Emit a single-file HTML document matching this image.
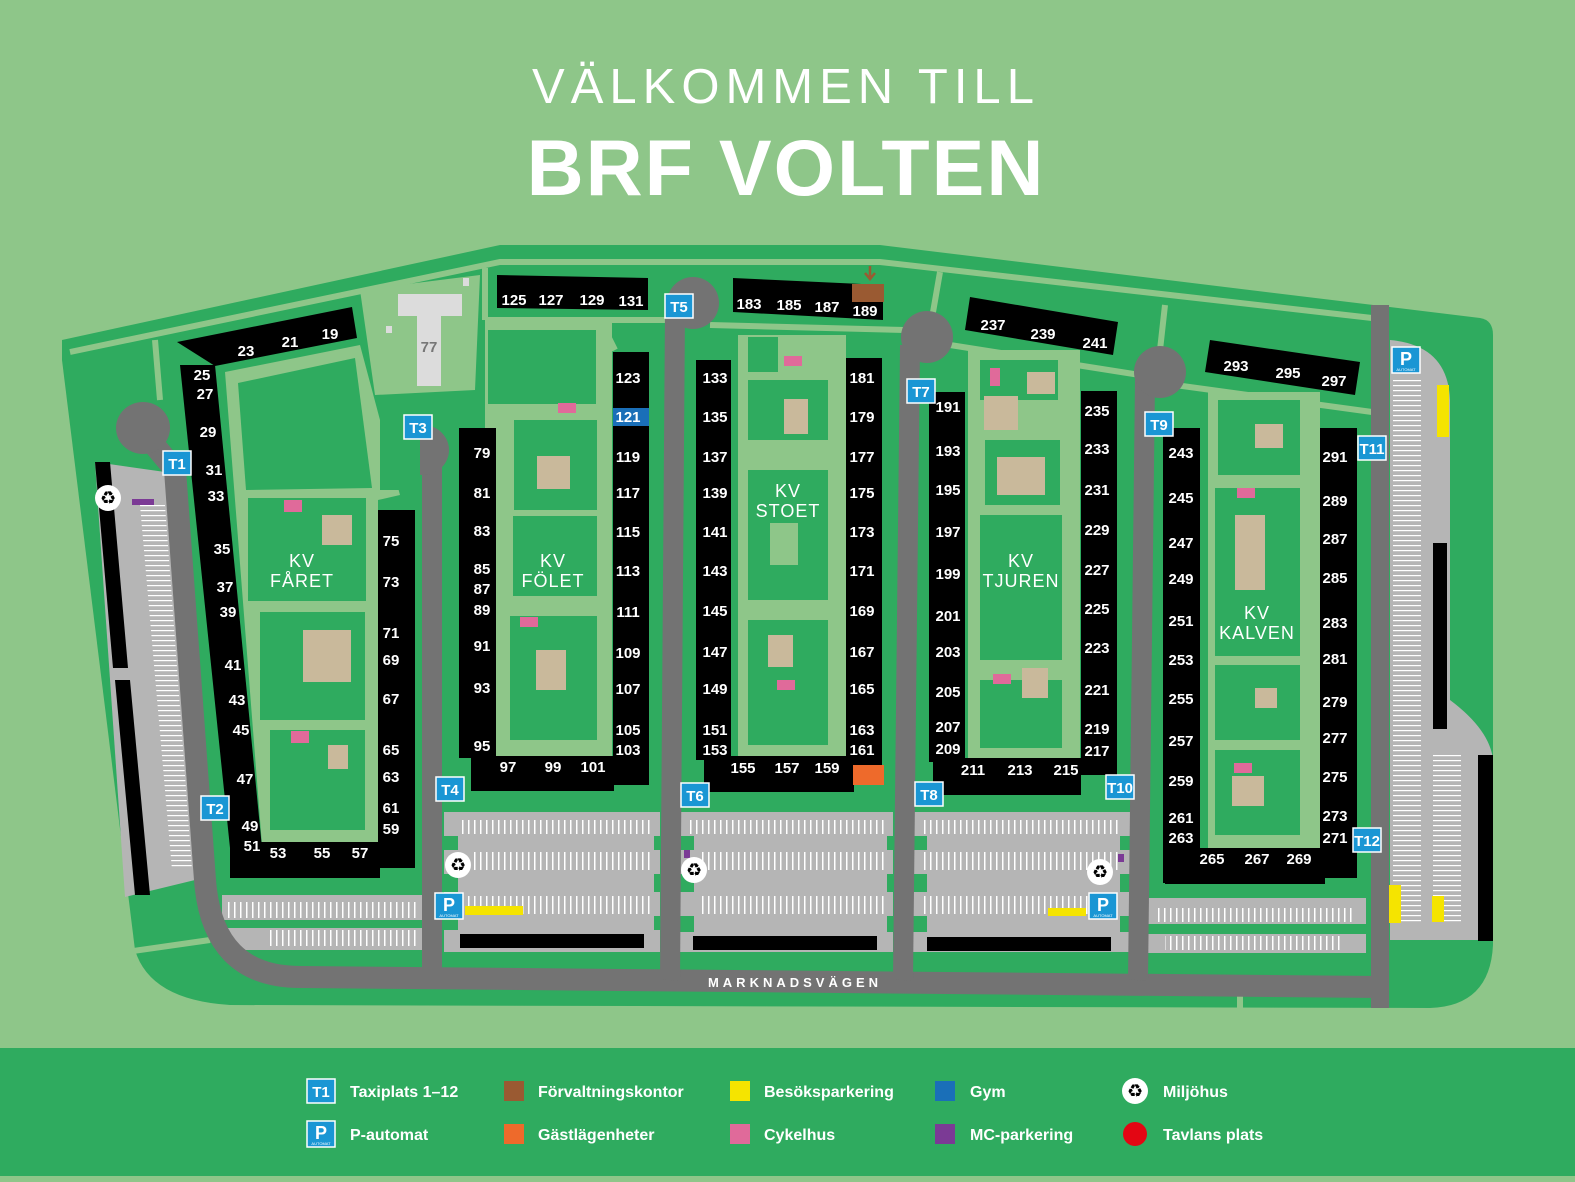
<!DOCTYPE html>
<html><head><meta charset="utf-8"><style>
html,body{margin:0;padding:0;background:#8ec689;}
svg{display:block;font-family:"Liberation Sans",sans-serif;}
.n{fill:#fff;font-weight:bold;font-size:15px;text-anchor:middle;}
.kv{fill:#fff;font-size:18px;text-anchor:middle;letter-spacing:1px;}
.t{fill:#fff;font-weight:bold;font-size:15px;text-anchor:middle;}
.lg{fill:#fff;font-weight:bold;font-size:16px;}
</style></head><body>
<svg width="1575" height="1182" viewBox="0 0 1575 1182" xmlns="http://www.w3.org/2000/svg">
<defs>
<pattern id="st" width="6" height="10" patternUnits="userSpaceOnUse"><rect width="6" height="10" fill="#b5b5b5"/><rect x="0" width="1.5" height="10" fill="#fff"/></pattern>
<pattern id="sh" width="10" height="5" patternUnits="userSpaceOnUse"><rect width="10" height="5" fill="#b5b5b5"/><rect y="0" width="10" height="1.2" fill="#fff"/></pattern>
<g id="T"><rect x="-14" y="-12" width="28" height="24" fill="#1a96d4" stroke="#fff" stroke-width="1.5"/></g>
<g id="R"><circle r="13" fill="#fff"/><text y="6" font-size="18" text-anchor="middle" fill="#000">♻</text></g>
<g id="P"><rect x="-14" y="-13" width="28" height="26" fill="#1a96d4" stroke="#fff" stroke-width="1.5"/><text y="5" font-size="18" font-weight="bold" fill="#fff" text-anchor="middle">P</text><text y="11" font-size="4" fill="#fff" text-anchor="middle">AUTOMAT</text></g>
</defs>
<rect width="1575" height="1182" fill="#8ec689"/>
<text x="786" y="103" font-size="49" fill="#fff" text-anchor="middle" letter-spacing="6">VÄLKOMMEN TILL</text>
<text x="786" y="195" font-size="79" font-weight="bold" fill="#fff" text-anchor="middle" letter-spacing="2">BRF VOLTEN</text>

<path d="M62,340 L500,245 L880,245 L1480,318 Q1493,320 1493,335 L1493,945 Q1490,1006 1430,1008 L230,1005 Q150,1000 135,950 L62,360 Z" fill="#2fab5f"/>
<path d="M70,352 L500,262 L880,262 L1372,318" stroke="#8ec689" stroke-width="6" fill="none"/>
<path d="M155,340 L160,400 M365,290 L380,390 M485,268 L485,320 M600,320 L615,350 M940,272 L932,318 M1165,305 L1160,350" stroke="#8ec689" stroke-width="6" fill="none"/>
<path d="M485,320 L690,320 M710,325 L905,330 M950,345 L1140,375 M1175,385 L1372,412" stroke="#8ec689" stroke-width="6" fill="none"/>
<path d="M70,960 L210,940 M1240,990 L1240,1008" stroke="#8ec689" stroke-width="6" fill="none"/>

<polygon points="95,462 165,472 195,880 125,897" fill="#b5b5b5"/>
<polygon points="140,505 165,505 192,870 172,870" fill="url(#sh)"/>
<polygon points="95,462 110,462 128,668 113,668" fill="#000"/>
<polygon points="115,680 130,680 150,895 135,895" fill="#000"/>
<rect x="132" y="499" width="22" height="6" fill="#7b3a95"/>

<path d="M1390,340 Q1448,345 1450,400 L1450,700 Q1490,730 1493,760 L1493,940 L1390,940 Z" fill="#b5b5b5"/>
<rect x="1393" y="380" width="28" height="545" fill="url(#sh)"/>
<rect x="1433" y="752" width="28" height="170" fill="url(#sh)"/>
<rect x="1433" y="543" width="14" height="186" fill="#000"/>
<rect x="1478" y="755" width="15" height="186" fill="#000"/>
<rect x="1437" y="385" width="12" height="52" fill="#f5e400"/>
<rect x="1389" y="885" width="12" height="38" fill="#f5e400"/>
<rect x="1432" y="896" width="12" height="26" fill="#f5e400"/>

<rect x="222" y="895" width="200" height="55" fill="#b5b5b5"/>
<rect x="228" y="902" width="188" height="16" fill="url(#st)"/>
<rect x="266" y="930" width="150" height="16" fill="url(#st)"/>
<rect x="444" y="812" width="216" height="140" fill="#b5b5b5"/>
<rect x="458" y="820" width="196" height="14" fill="url(#st)"/>
<rect x="470" y="852" width="184" height="18" fill="url(#st)"/>
<rect x="465" y="896" width="189" height="18" fill="url(#st)"/>
<rect x="465" y="906" width="58" height="9" fill="#f5e400"/>
<rect x="460" y="934" width="184" height="14" fill="#000"/>
<rect x="680" y="812" width="213" height="140" fill="#b5b5b5"/>
<rect x="690" y="820" width="197" height="14" fill="url(#st)"/>
<rect x="700" y="852" width="187" height="18" fill="url(#st)"/>
<rect x="698" y="896" width="189" height="18" fill="url(#st)"/>
<rect x="693" y="936" width="184" height="14" fill="#000"/>
<rect x="913" y="812" width="217" height="140" fill="#b5b5b5"/>
<rect x="923" y="820" width="197" height="14" fill="url(#st)"/>
<rect x="923" y="852" width="197" height="18" fill="url(#st)"/>
<rect x="923" y="896" width="165" height="18" fill="url(#st)"/>
<rect x="1048" y="908" width="38" height="9" fill="#f5e400"/>
<rect x="927" y="937" width="184" height="14" fill="#000"/>
<rect x="1147" y="898" width="219" height="55" fill="#b5b5b5"/>
<rect x="1155" y="908" width="200" height="14" fill="url(#st)"/>
<rect x="1165" y="936" width="175" height="14" fill="url(#st)"/>
<g fill="#2fab5f"><rect x="444" y="836" width="216" height="14"/><rect x="444" y="874" width="216" height="18"/><rect x="444" y="916" width="216" height="14"/>
<rect x="680" y="836" width="213" height="14"/><rect x="680" y="874" width="213" height="18"/><rect x="680" y="916" width="213" height="16"/>
<rect x="913" y="836" width="217" height="14"/><rect x="913" y="874" width="217" height="18"/><rect x="913" y="916" width="217" height="16"/>
<rect x="222" y="920" width="200" height="8"/><rect x="1147" y="924" width="219" height="10"/></g>
<g fill="#b5b5b5"><rect x="458" y="836" width="196" height="14"/><rect x="458" y="874" width="196" height="18"/><rect x="694" y="836" width="193" height="14"/><rect x="694" y="874" width="193" height="18"/><rect x="927" y="836" width="193" height="14"/><rect x="927" y="874" width="193" height="18"/><rect x="458" y="916" width="196" height="16"/><rect x="694" y="916" width="193" height="18"/><rect x="927" y="916" width="193" height="18"/></g>
<rect x="684" y="850" width="6" height="8" fill="#7b3a95"/><rect x="1118" y="854" width="6" height="8" fill="#7b3a95"/>

<g stroke="#737373" fill="none" stroke-linecap="butt">
<path d="M150,440 L175,470 L205,880 Q212,977 300,977 L1380,987" stroke-width="22"/>
<path d="M432,460 L432,980" stroke-width="20"/>
<path d="M675,310 L670,980" stroke-width="20"/>
<path d="M910,345 L903,980" stroke-width="20"/>
<path d="M1145,380 L1138,980" stroke-width="20"/>
<path d="M1380,305 L1380,1008" stroke-width="18"/>
</g>
<g fill="#737373">
<ellipse cx="143" cy="428" rx="27" ry="26"/><ellipse cx="423" cy="450" rx="26" ry="25"/><ellipse cx="693" cy="303" rx="26" ry="26"/><ellipse cx="927" cy="337" rx="26" ry="26"/><ellipse cx="1160" cy="372" rx="26" ry="26"/>
</g>
<text x="795" y="987" font-size="13" font-weight="bold" fill="#fff" text-anchor="middle" letter-spacing="4">MARKNADSVÄGEN</text>

<g fill="#8ec689">
<polygon points="225,372 360,345 400,495 378,500 378,845 262,845"/>
<rect x="485" y="320" width="127" height="440"/>
<rect x="738" y="335" width="108" height="425"/>
<rect x="968" y="350" width="112" height="410"/>
<rect x="1208" y="392" width="112" height="460"/>
<polygon points="360,290 480,275 475,390 375,395"/>
</g>
<g fill="#2fab5f">
<polygon points="238,383 355,358 372,488 246,490"/><rect x="248" y="498" width="118" height="103"/><rect x="260" y="612" width="105" height="108"/><rect x="270" y="730" width="95" height="100"/>
<rect x="488" y="330" width="108" height="74"/><rect x="514" y="420" width="83" height="90"/><rect x="513" y="516" width="84" height="80"/><rect x="510" y="616" width="87" height="124"/>
<rect x="748" y="337" width="30" height="35"/><rect x="748" y="380" width="80" height="60"/><rect x="748" y="470" width="80" height="130"/><rect x="748" y="620" width="80" height="125"/>
<rect x="980" y="360" width="78" height="40"/><rect x="985" y="440" width="75" height="65"/><rect x="980" y="515" width="82" height="145"/><rect x="980" y="680" width="82" height="68"/>
<rect x="1218" y="400" width="82" height="75"/><rect x="1215" y="488" width="85" height="168"/><rect x="1215" y="665" width="85" height="75"/><rect x="1215" y="750" width="85" height="85"/>
<rect x="380" y="400" width="40" height="90"/>
</g>
<g fill="#c9b99b">
<rect x="322" y="515" width="30" height="30"/><rect x="303" y="630" width="48" height="52"/><rect x="328" y="745" width="20" height="24"/>
<rect x="537" y="456" width="33" height="33"/><rect x="536" y="650" width="30" height="40"/>
<rect x="784" y="399" width="24" height="35"/><rect x="768" y="635" width="25" height="32"/>
<rect x="984" y="396" width="34" height="34"/><rect x="997" y="457" width="48" height="38"/><rect x="1027" y="372" width="28" height="22"/><rect x="1022" y="668" width="26" height="30"/>
<rect x="1255" y="424" width="28" height="24"/><rect x="1235" y="515" width="30" height="75"/><rect x="1255" y="688" width="22" height="20"/><rect x="1232" y="776" width="32" height="30"/>
</g>
<rect x="770" y="523" width="28" height="42" fill="#8ec689"/>
<g fill="#e06a9a">
<rect x="284" y="500" width="18" height="12"/><rect x="291" y="731" width="18" height="12"/><rect x="558" y="403" width="18" height="10"/><rect x="520" y="617" width="18" height="10"/>
<rect x="784" y="356" width="18" height="10"/><rect x="777" y="680" width="18" height="10"/><rect x="990" y="368" width="10" height="18"/><rect x="993" y="674" width="18" height="10"/>
<rect x="1237" y="488" width="18" height="10"/><rect x="1234" y="763" width="18" height="10"/>
</g>
<g fill="#dcdcdc"><rect x="398" y="294" width="64" height="22"/><rect x="417" y="316" width="24" height="70"/><rect x="463" y="278" width="6" height="8"/><rect x="386" y="326" width="6" height="7"/></g>
<text x="429" y="352" font-size="15" font-weight="bold" fill="#777" text-anchor="middle">77</text>

<g fill="#000">
<polygon points="177,342 352,307 357,338 215,366"/>
<polygon points="180,365 215,365 262,848 230,848"/>
<rect x="230" y="842" width="150" height="36"/>
<rect x="378" y="510" width="37" height="358"/>
<rect x="459" y="428" width="37" height="330"/>
<rect x="471" y="756" width="143" height="35"/>
<rect x="613" y="352" width="36" height="433"/>
<polygon points="497,275 648,278 648,310 497,308"/>
<rect x="696" y="360" width="35" height="400"/>
<rect x="704" y="756" width="150" height="36"/>
<rect x="846" y="358" width="36" height="427"/>
<polygon points="733,278 883,285 883,320 733,312"/>
<rect x="929" y="392" width="36" height="370"/>
<rect x="933" y="758" width="148" height="37"/>
<rect x="1081" y="391" width="36" height="384"/>
<polygon points="970,297 1118,322 1113,355 965,330"/>
<rect x="1163" y="428" width="37" height="455"/>
<rect x="1165" y="848" width="160" height="36"/>
<rect x="1320" y="428" width="37" height="450"/>
<polygon points="1210,340 1360,362 1355,395 1205,372"/>
</g>
<rect x="613" y="408" width="36" height="18" fill="#1a6fb8"/>
<rect x="853" y="765" width="31" height="20" fill="#ee6a2b"/>
<rect x="852" y="284" width="32" height="18" fill="#9a5a32"/>
<path d="M870,266 L870,278 M865,273 L870,279 L875,273" stroke="#9a5a32" stroke-width="2.5" fill="none"/>

<g class="n">
<text x="246" y="356">23</text><text x="290" y="347">21</text><text x="330" y="339">19</text>
<text x="202" y="380">25</text><text x="205" y="399">27</text><text x="208" y="437">29</text><text x="214" y="475">31</text><text x="216" y="501">33</text><text x="222" y="554">35</text><text x="225" y="592">37</text><text x="228" y="617">39</text><text x="233" y="670">41</text><text x="237" y="705">43</text><text x="241" y="735">45</text><text x="245" y="784">47</text><text x="250" y="831">49</text><text x="252" y="851">51</text><text x="278" y="858">53</text><text x="322" y="858">55</text><text x="360" y="858">57</text>
<text x="391" y="546">75</text><text x="391" y="587">73</text><text x="391" y="638">71</text><text x="391" y="665">69</text><text x="391" y="704">67</text><text x="391" y="755">65</text><text x="391" y="782">63</text><text x="391" y="813">61</text><text x="391" y="834">59</text>
<text x="482" y="458">79</text><text x="482" y="498">81</text><text x="482" y="536">83</text><text x="482" y="574">85</text><text x="482" y="594">87</text><text x="482" y="615">89</text><text x="482" y="651">91</text><text x="482" y="693">93</text><text x="482" y="751">95</text>
<text x="508" y="772">97</text><text x="553" y="772">99</text><text x="593" y="772">101</text>
<text x="628" y="383">123</text><text x="628" y="422">121</text><text x="628" y="462">119</text><text x="628" y="498">117</text><text x="628" y="537">115</text><text x="628" y="576">113</text><text x="628" y="617">111</text><text x="628" y="658">109</text><text x="628" y="694">107</text><text x="628" y="735">105</text><text x="628" y="755">103</text>
<text x="514" y="305">125</text><text x="551" y="305">127</text><text x="592" y="305">129</text><text x="631" y="306">131</text>
<text x="749" y="309">183</text><text x="789" y="310">185</text><text x="827" y="312">187</text><text x="865" y="316">189</text>
<text x="715" y="383">133</text><text x="715" y="422">135</text><text x="715" y="462">137</text><text x="715" y="498">139</text><text x="715" y="537">141</text><text x="715" y="576">143</text><text x="715" y="616">145</text><text x="715" y="657">147</text><text x="715" y="694">149</text><text x="715" y="735">151</text><text x="715" y="755">153</text>
<text x="743" y="773">155</text><text x="787" y="773">157</text><text x="827" y="773">159</text>
<text x="862" y="383">181</text><text x="862" y="422">179</text><text x="862" y="462">177</text><text x="862" y="498">175</text><text x="862" y="537">173</text><text x="862" y="576">171</text><text x="862" y="616">169</text><text x="862" y="657">167</text><text x="862" y="694">165</text><text x="862" y="735">163</text><text x="862" y="755">161</text>
<text x="993" y="330">237</text><text x="1043" y="339">239</text><text x="1095" y="348">241</text>
<text x="948" y="412">191</text><text x="948" y="456">193</text><text x="948" y="495">195</text><text x="948" y="537">197</text><text x="948" y="579">199</text><text x="948" y="621">201</text><text x="948" y="657">203</text><text x="948" y="697">205</text><text x="948" y="732">207</text><text x="948" y="754">209</text>
<text x="973" y="775">211</text><text x="1020" y="775">213</text><text x="1066" y="775">215</text>
<text x="1097" y="416">235</text><text x="1097" y="454">233</text><text x="1097" y="495">231</text><text x="1097" y="535">229</text><text x="1097" y="575">227</text><text x="1097" y="614">225</text><text x="1097" y="653">223</text><text x="1097" y="695">221</text><text x="1097" y="734">219</text><text x="1097" y="756">217</text>
<text x="1236" y="371">293</text><text x="1288" y="378">295</text><text x="1334" y="386">297</text>
<text x="1181" y="458">243</text><text x="1181" y="503">245</text><text x="1181" y="548">247</text><text x="1181" y="584">249</text><text x="1181" y="626">251</text><text x="1181" y="665">253</text><text x="1181" y="704">255</text><text x="1181" y="746">257</text><text x="1181" y="786">259</text><text x="1181" y="823">261</text><text x="1181" y="843">263</text>
<text x="1212" y="864">265</text><text x="1257" y="864">267</text><text x="1299" y="864">269</text>
<text x="1335" y="462">291</text><text x="1335" y="506">289</text><text x="1335" y="544">287</text><text x="1335" y="583">285</text><text x="1335" y="628">283</text><text x="1335" y="664">281</text><text x="1335" y="707">279</text><text x="1335" y="743">277</text><text x="1335" y="782">275</text><text x="1335" y="821">273</text><text x="1335" y="843">271</text>
</g>
<g class="kv">
<text x="302" y="567">KV</text><text x="302" y="587">FÅRET</text>
<text x="553" y="567">KV</text><text x="553" y="587">FÖLET</text>
<text x="788" y="497">KV</text><text x="788" y="517">STOET</text>
<text x="1021" y="567">KV</text><text x="1021" y="587">TJUREN</text>
<text x="1257" y="619">KV</text><text x="1257" y="639">KALVEN</text>
</g>
<g class="t">
<use href="#T" x="177" y="463"/><text x="177" y="469">T1</text>
<use href="#T" x="215" y="808"/><text x="215" y="814">T2</text>
<use href="#T" x="418" y="427"/><text x="418" y="433">T3</text>
<use href="#T" x="450" y="789"/><text x="450" y="795">T4</text>
<use href="#T" x="679" y="306"/><text x="679" y="312">T5</text>
<use href="#T" x="695" y="795"/><text x="695" y="801">T6</text>
<use href="#T" x="921" y="391"/><text x="921" y="397">T7</text>
<use href="#T" x="929" y="794"/><text x="929" y="800">T8</text>
<use href="#T" x="1159" y="424"/><text x="1159" y="430">T9</text>
<use href="#T" x="1120" y="787"/><text x="1120" y="793">T10</text>
<use href="#T" x="1372" y="448"/><text x="1372" y="454">T11</text>
<use href="#T" x="1367" y="840"/><text x="1367" y="846">T12</text>
</g>
<use href="#P" x="1406" y="360"/><use href="#P" x="449" y="906"/><use href="#P" x="1103" y="906"/>
<use href="#R" x="108" y="498"/><use href="#R" x="458" y="865"/><use href="#R" x="694" y="870"/><use href="#R" x="1100" y="872"/>

<rect x="0" y="1048" width="1575" height="128" fill="#2fab5f"/>
<use href="#T" x="321" y="1091"/><text class="t" x="321" y="1097">T1</text>
<use href="#P" x="321" y="1134"/>
<rect x="504" y="1081" width="20" height="20" fill="#9a5a32"/>
<rect x="504" y="1124" width="20" height="20" fill="#ee6a2b"/>
<rect x="730" y="1081" width="20" height="20" fill="#f5e400"/>
<rect x="730" y="1124" width="20" height="20" fill="#e06a9a"/>
<rect x="935" y="1081" width="20" height="20" fill="#1a6fb8"/>
<rect x="935" y="1124" width="20" height="20" fill="#7b3a95"/>
<use href="#R" x="1135" y="1091"/>
<circle cx="1135" cy="1134" r="12" fill="#e30613"/>
<g class="lg">
<text x="350" y="1097">Taxiplats 1–12</text><text x="350" y="1140">P-automat</text>
<text x="538" y="1097">Förvaltningskontor</text><text x="538" y="1140">Gästlägenheter</text>
<text x="764" y="1097">Besöksparkering</text><text x="764" y="1140">Cykelhus</text>
<text x="970" y="1097">Gym</text><text x="970" y="1140">MC-parkering</text>
<text x="1163" y="1097">Miljöhus</text><text x="1163" y="1140">Tavlans plats</text>
</g>
</svg>
</body></html>
